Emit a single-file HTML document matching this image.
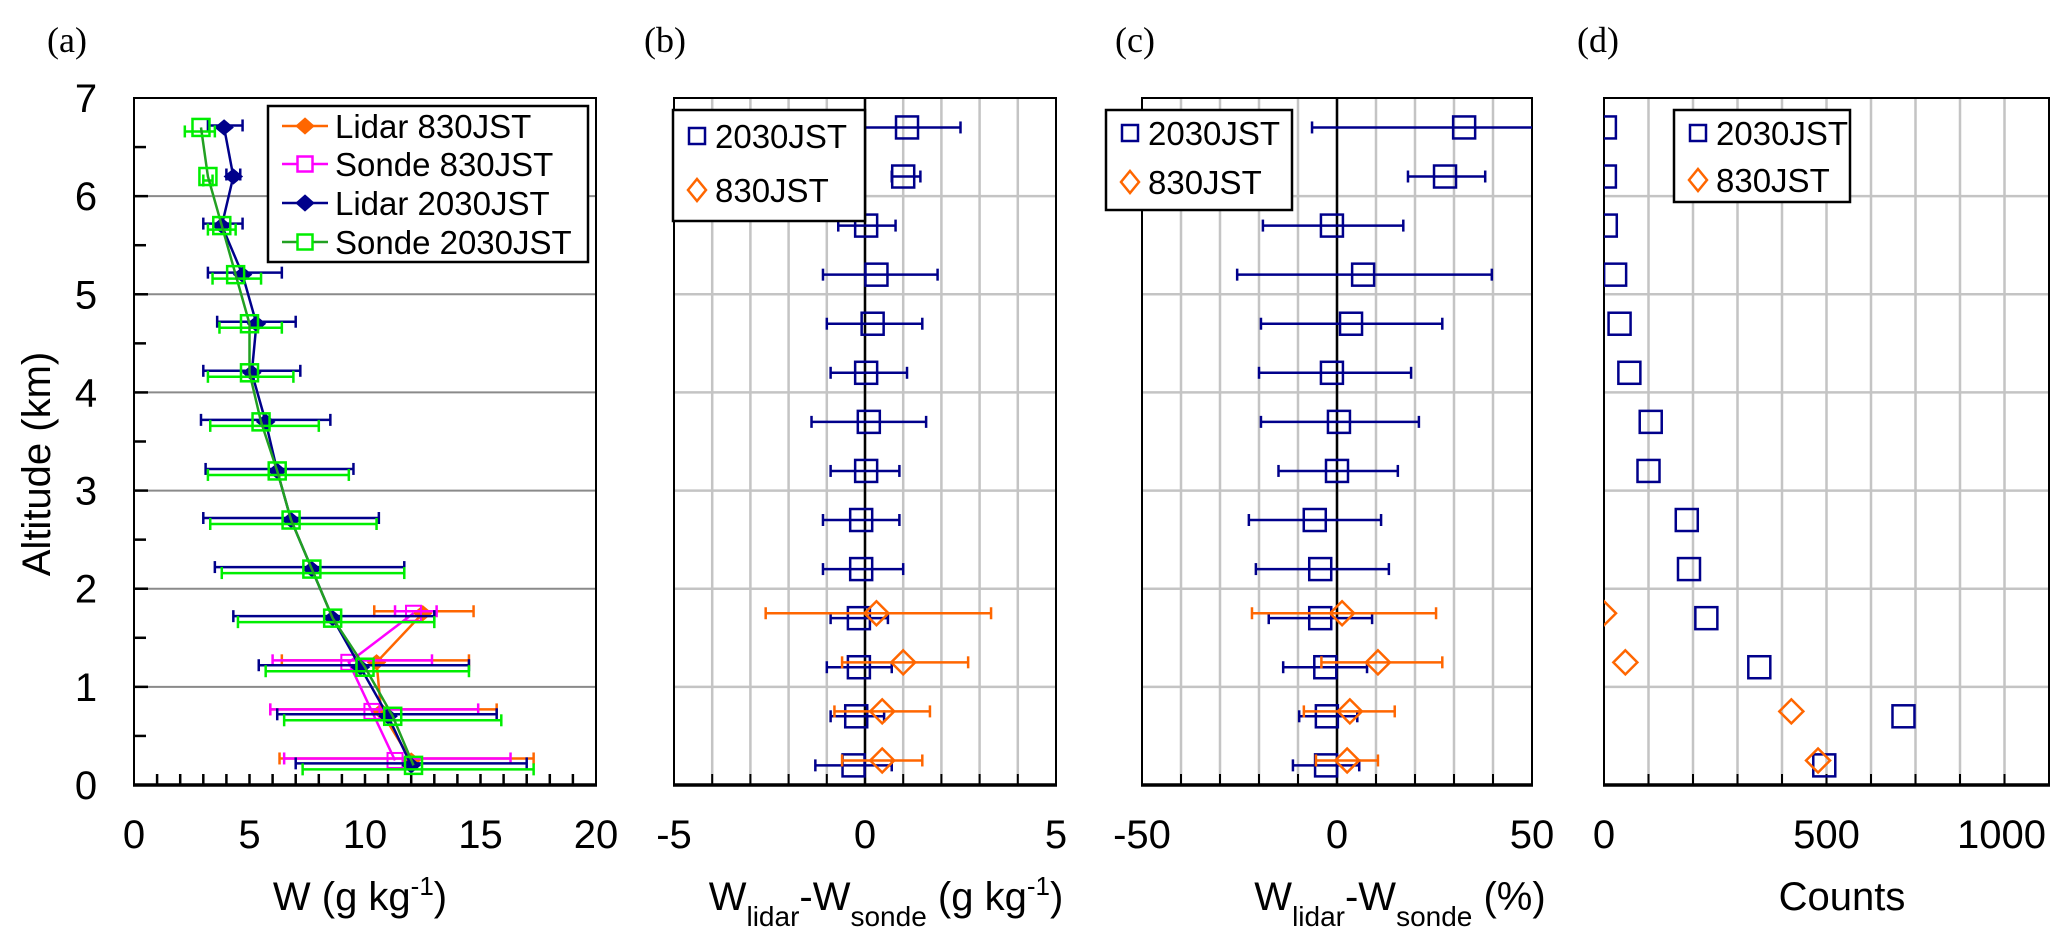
<!DOCTYPE html>
<html><head><meta charset="utf-8">
<style>
html,body{margin:0;padding:0;background:#fff;}
svg{display:block;font-family:"Liberation Sans",Arial,sans-serif;}
</style></head>
<body>
<svg id="fig" width="2067" height="939" viewBox="0 0 2067 939" xmlns="http://www.w3.org/2000/svg"></svg>
<script>
// ---------- DATA ----------
const alt2030 = [0.2,0.7,1.2,1.7,2.2,2.7,3.2,3.7,4.2,4.7,5.2,5.7,6.2,6.7];
const alt830 = [0.25,0.75,1.25,1.75];
// Panel (a)
const lidar2030 = [12.0,11.0,9.8,8.6,7.7,6.8,6.2,5.7,5.1,5.3,4.7,3.8,4.3,3.9];
const lidar2030Lo = [7.0,6.2,5.4,4.3,3.5,3.0,3.1,2.9,3.0,3.6,3.2,3.0,4.0,3.2];
const lidar2030Hi = [17.0,15.7,14.5,13.0,11.7,10.6,9.5,8.5,7.2,7.0,6.4,4.7,4.6,4.7];
const sonde2030 = [12.1,11.2,10.0,8.6,7.7,6.8,6.2,5.5,5.0,5.0,4.4,3.8,3.2,2.9];
const sonde2030Lo = [7.3,6.5,5.7,4.5,3.8,3.3,3.2,3.3,3.2,3.7,3.4,3.2,3.0,2.2];
const sonde2030Hi = [17.3,15.9,14.5,13.0,11.7,10.5,9.3,8.0,6.9,6.4,5.5,4.4,3.4,3.5];
const lidar830 = [12.0,10.7,10.5,12.5];
const lidar830Lo = [6.3,5.9,6.4,10.4];
const lidar830Hi = [17.3,15.7,14.5,14.7];
const sonde830 = [11.3,10.3,9.3,12.1];
const sonde830Lo = [6.5,5.9,6.0,11.3];
const sonde830Hi = [16.3,14.9,12.9,13.1];
// Panel (b) difference g/kg
const diffB2030 = [-0.3,-0.23,-0.16,-0.16,-0.1,-0.1,0.03,0.1,0.03,0.2,0.3,0.03,1.0,1.1];
const diffB2030Lo = [-1.3,-0.9,-1.0,-0.9,-1.1,-1.1,-0.9,-1.4,-0.9,-1.0,-1.1,-0.7,0.7,-0.3];
const diffB2030Hi = [0.7,0.5,0.7,0.6,1.0,0.9,0.9,1.6,1.1,1.5,1.9,0.8,1.45,2.5];
const diffB830 = [0.45,0.45,1.0,0.3];
const diffB830Lo = [-0.6,-0.8,-0.6,-2.6];
const diffB830Hi = [1.5,1.7,2.7,3.3];
// Panel (c) difference %
const diffC2030 = [-2.8,-2.6,-3.0,-4.3,-4.3,-5.7,0.0,0.5,-1.3,3.6,6.7,-1.3,27.7,32.6];
const diffC2030Lo = [-11.3,-9.7,-13.8,-17.5,-20.8,-22.6,-15,-19.5,-20,-19.5,-25.6,-19,18.2,-6.4];
const diffC2030Hi = [5.7,5.2,7.7,9.0,13.3,11.3,15.6,21,19,27,39.7,17,38,55];
const diffC830 = [2.6,3.3,10.5,1.3];
const diffC830Lo = [-5.4,-8.5,-4,-21.8];
const diffC830Hi = [10.5,14.8,27,25.4];
// Panel (d) counts
const counts2030 = [495,673,349,230,191,186,100,105,57,35,25,4,2,2];
const counts830 = [481,421,48,0];
// Ticks
const ticksY = [0,1,2,3,4,5,6,7];
const ticksA = [0,5,10,15,20];
const ticksB = [-5,0,5];
const ticksC = [-50,0,50];
const ticksD = [0,500,1000];

// ---------- HELPERS ----------
const NS = "http://www.w3.org/2000/svg";
const svg = document.getElementById('fig');
function el(tag, attrs, parent, text){
  const e = document.createElementNS(NS, tag);
  for (const k in attrs) e.setAttribute(k, attrs[k]);
  if (text !== undefined) e.textContent = text;
  (parent || svg).appendChild(e);
  return e;
}
const Y0 = 785, Y7 = 98;
function yS(v){ return Y0 - (Y0 - Y7) * v / 7; }
function mkX(l, r, a, b){ return v => l + (r - l) * (v - a) / (b - a); }

const NAVY = "#00008b", GREEN = "#00ee00", GLINE = "#22a022", ORANGE = "#ff6600", MAG = "#ff00ff";

function errbar(g, x1, x2, y, color, w){
  el('line',{x1:x1,y1:y,x2:x2,y2:y,stroke:color,'stroke-width':w||2.5},g);
  el('line',{x1:x1,y1:y-6,x2:x1,y2:y+6,stroke:color,'stroke-width':2.5},g);
  el('line',{x1:x2,y1:y-6,x2:x2,y2:y+6,stroke:color,'stroke-width':2.5},g);
}
function square(g, x, y, s, color, fill, sw){
  return el('rect',{x:x-s/2,y:y-s/2,width:s,height:s,fill:fill||'none',stroke:color,'stroke-width':sw||2.5},g);
}
function diamond(g, x, y, w, h, color, fill, sw){
  return el('polygon',{points:`${x},${y-h/2} ${x+w/2},${y} ${x},${y+h/2} ${x-w/2},${y}`,fill:fill||'none',stroke:color,'stroke-width':sw||2.5},g);
}

function panelFrame(name, l, r, xTicks, xS, gridStep, gx0, gx1, labelText, labelX, titleX, titleNodes, opts){
  const g = el('g',{});
  
  
  // vertical gridlines
  if (opts.vgrid){
    for (let v = gx0 + gridStep; v < gx1 - 1e-9; v += gridStep){
      const ln = el('line',{x1:xS(v),y1:Y7,x2:xS(v),y2:Y0,stroke:'#c4c4c4','stroke-width':2.5},g);
      
      
      el('line',{x1:xS(v),y1:Y0,x2:xS(v),y2:Y0-11,stroke:'#000','stroke-width':2},g);
    }
  }
  // horizontal gridlines
  for (let k = 1; k < 7; k++){
    const ln = el('line',{x1:l,y1:yS(k),x2:r,y2:yS(k),stroke:opts.vgrid?'#c4c4c4':'#8a8a8a','stroke-width':opts.vgrid?2.5:2},g);
    
    
  }
  // box
  const box = el('rect',{x:l,y:Y7,width:r-l,height:Y0-Y7,fill:'none',stroke:'#000','stroke-width':2},g);
  
  
  el('line',{x1:l-1,y1:Y0,x2:r+1,y2:Y0,stroke:'#000','stroke-width':3.5},g);
  // x tick labels
  xTicks.forEach((t,i)=>{
    let x = xS(t), anchor = 'middle';
    if (opts.lastEnd && i === xTicks.length-1){ x = 2046; anchor = 'end'; }
    const tx = el('text',{x:x,y:848,'font-size':40,'text-anchor':anchor},g,String(t));
    
    
  });
  // panel label
  const pl = el('text',{x:labelX,y:52,'font-size':36,'font-family':'"Liberation Serif",serif'},g,labelText);
  
  
  // x title
  const tt = el('text',{x:titleX,y:910,'font-size':40,'text-anchor':'middle'},g);
  
  
  titleNodes.forEach(n=>{
    const ts = el('tspan',n.attrs||{},tt,n.t);
  });
  return g;
}

// ---------- PANEL A ----------
const xA = mkX(134, 596, 0, 20);
const gA = panelFrame('panel-a-water-vapor', 134, 596, ticksA, xA, 1, 0, 20, '(a)', 47, 360,
  [{t:'W (g kg'},{t:'-1',attrs:{'baseline-shift':'super','font-size':26}},{t:')'}], {vgrid:false});
// minor ticks
for (let v = 1; v < 20; v++){
  el('line',{x1:xA(v),y1:Y0,x2:xA(v),y2:Y0-11,stroke:'#000','stroke-width':2.5},gA);
}
for (let k = 0.5; k < 7; k += 0.5){
  el('line',{x1:134,y1:yS(k),x2:Number.isInteger(k)?148:146,y2:yS(k),stroke:'#000','stroke-width':2.5},gA);
}
ticksY.forEach(t=>{
  const tx = el('text',{x:86,y:yS(t)+14,'font-size':40,'text-anchor':'middle'},gA,String(t));
  
  
});
const yt = el('text',{x:0,y:0,'font-size':40,'text-anchor':'middle',transform:`translate(50,464) rotate(-90)`},gA,'Altitude (km)');



function seriesA(name, alts, vals, lo, hi, color, lineColor, marker){
  const g = el('g',{},gA);
  
  
  alts.forEach((a,i)=> errbar(g, xA(lo[i]), xA(hi[i]), yS(a)+(marker==='sq'?4:-2), color, 2.5));
  const pts = alts.map((a,i)=>`${xA(vals[i])},${yS(a)}`).join(' ');
  el('polyline',{points:pts,fill:'none',stroke:lineColor,'stroke-width':2.5},g);
  alts.forEach((a,i)=>{
    let m;
    if (marker==='dia') m = diamond(g, xA(vals[i]), yS(a), 18, 15, color, color, 1);
    else if (marker==='sqS') m = square(g, xA(vals[i]), yS(a), 15, color, 'none', 2);
    else m = square(g, xA(vals[i]), yS(a), 17, color, 'none', 2.5);
    
    
  });
}
seriesA('lidar-830jst-series', alt830, lidar830, lidar830Lo, lidar830Hi, ORANGE, ORANGE, 'dia');
seriesA('sonde-830jst-series', alt830, sonde830, sonde830Lo, sonde830Hi, MAG, MAG, 'sqS');
seriesA('lidar-2030jst-series', alt2030, lidar2030, lidar2030Lo, lidar2030Hi, NAVY, NAVY, 'dia');
seriesA('sonde-2030jst-series', alt2030, sonde2030, sonde2030Lo, sonde2030Hi, GREEN, GLINE, 'sq');

// legend a
const legA = el('g',{},gA);


el('rect',{x:268,y:106,width:320,height:156,fill:'#fff',stroke:'#000','stroke-width':2.5},legA);
const legAItems = [['Lidar 830JST',ORANGE,'dia',126],['Sonde 830JST',MAG,'sqS',164],['Lidar 2030JST',NAVY,'dia',203],['Sonde 2030JST',GREEN,'sq',242]];
legAItems.forEach(it=>{
  const e = el('g',{},legA);
  
  
  el('line',{x1:282,y1:it[3],x2:328,y2:it[3],stroke:it[1]===GREEN?GLINE:it[1],'stroke-width':2.5},e);
  if (it[2]==='dia') diamond(e,305,it[3],18,16,it[1],it[1],1);
  else square(e,305,it[3],15,it[1],'#fff',2.5);
  el('text',{x:335,y:it[3]+12,'font-size':33},e,it[0]);
});

// ---------- difference panels ----------
function diffPanel(name, l, r, ticks, a, b, step, label, labelX, titleX, titleNodes, v2030, lo2030, hi2030, v830, lo830, hi830, legBox, opts){
  const xS = mkX(l, r, a, b);
  const g = panelFrame(name, l, r, ticks, xS, step, a, b, label, labelX, titleX, titleNodes, {vgrid:true, lastEnd:opts&&opts.lastEnd});
  const clipId = name + '-clip';
  const cp = el('clipPath',{id:clipId},g);
  el('rect',{x:l,y:Y7,width:r-l,height:Y0-Y7},cp);
  if (v2030 && lo2030){
    el('line',{x1:xS(0),y1:Y7,x2:xS(0),y2:Y0,stroke:'#000','stroke-width':2.5},g);
  }
  const inner = el('g',{'clip-path':`url(#${clipId})`},g);
  const s1 = el('g',{},inner);
  
  
  const s2 = el('g',{},inner);
  
  
  alt2030.forEach((al,i)=>{
    if (lo2030) errbar(s1, xS(lo2030[i]), xS(hi2030[i]), yS(al), NAVY, 2.5);
    const m = square(s1, xS(v2030[i]), yS(al), 22, NAVY, 'none', 2.5);
    
    
  });
  alt830.forEach((al,i)=>{
    if (lo830) errbar(s2, xS(lo830[i]), xS(hi830[i]), yS(al), ORANGE, 2.5);
    const m = diamond(s2, xS(v830[i]), yS(al), 24, 24, ORANGE, 'none', 2.5);
    
    
  });
  // legend
  const lg = el('g',{},g);
  
  
  el('rect',{x:legBox[0],y:legBox[1],width:legBox[2],height:legBox[3],fill:'#fff',stroke:'#000','stroke-width':2.5},lg);
  const r1 = legBox[4], r2 = legBox[5], mx = legBox[0]+24;
  const e1 = el('g',{},lg);
  
  
  square(e1, mx, r1, 16, NAVY, 'none', 2.5);
  el('text',{x:mx+18,y:r1+12,'font-size':33},e1,'2030JST');
  const e2 = el('g',{},lg);
  
  
  diamond(e2, mx, r2, 18, 22, ORANGE, 'none', 2.5);
  el('text',{x:mx+18,y:r2+12,'font-size':33},e2,'830JST');
  return g;
}
const subT = (a)=>[{t:'W'},{t:'lidar',attrs:{'baseline-shift':'sub','font-size':28}},{t:'-W',attrs:{'baseline-shift':'0'}},{t:'sonde',attrs:{'baseline-shift':'sub','font-size':28}},{t:a,attrs:{'baseline-shift':'0'}}];
diffPanel('panel-b-difference-gkg', 674, 1056, ticksB, -5, 5, 1, '(b)', 644, 886,
  [{t:'W'},{t:'lidar',attrs:{'baseline-shift':'sub','font-size':28}},{t:'-W',attrs:{'baseline-shift':'0'}},{t:'sonde',attrs:{'baseline-shift':'sub','font-size':28}},{t:' (g kg',attrs:{'baseline-shift':'0'}},{t:'-1',attrs:{'baseline-shift':'super','font-size':26}},{t:')',attrs:{'baseline-shift':'0'}}],
  diffB2030, diffB2030Lo, diffB2030Hi, diffB830, diffB830Lo, diffB830Hi, [673,110,192,111,136,190]);
diffPanel('panel-c-difference-percent', 1142, 1532, ticksC, -50, 50, 10, '(c)', 1115, 1400,
  subT(' (%)'), diffC2030, diffC2030Lo, diffC2030Hi, diffC830, diffC830Lo, diffC830Hi, [1106,110,186,100,133,182]);
diffPanel('panel-d-counts', 1604, 2049, ticksD, 0, 1000, 100, '(d)', 1577, 1842,
  [{t:'Counts'}], counts2030, null, null, counts830, null, null, [1674,110,176,92,133,180], {lastEnd:true});
</script>
</body></html>
